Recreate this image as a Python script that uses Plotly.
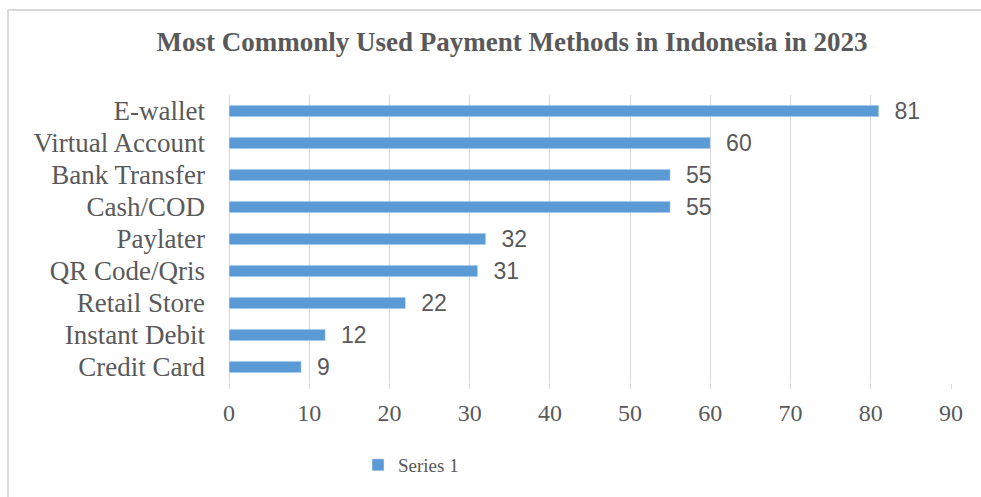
import plotly.graph_objects as go

# Payment methods and share of respondents (%)
methods = ["E-wallet", "Virtual Account", "Bank Transfer", "Cash/COD", "Paylater",
           "QR Code/Qris", "Retail Store", "Instant Debit", "Credit Card"]
shares = [81, 60, 55, 55, 32, 31, 22, 12, 9]
x_ticks = [0, 10, 20, 30, 40, 50, 60, 70, 80, 90]

W, H = 981, 497
L, R, T, B = 229, 30, 95, 114
PW, PH = W - L - R, H - T - B

GREY = "#595959"
GRID = "#d9d9d9"
SERIF = "Liberation Serif, Times New Roman, serif"
SANS = "Liberation Sans, Arial, sans-serif"


def px_x(px):
    return (px - L) / PW


def px_y(py):
    return (H - B - py) / PH


fig = go.Figure(
    go.Bar(
        x=shares,
        y=methods,
        orientation="h",
        name="Series 1",
        width=0.36,
        marker=dict(color="#5b9bd5"),
        text=shares,
        texttemplate="\u00a0\u00a0%{text}",
        textposition="outside",
        constraintext="none",
        textfont=dict(family=SANS, size=23, color=GREY),
        cliponaxis=False,
    )
)

fig.update_layout(
    width=W,
    height=H,
    margin=dict(l=L, r=R, t=T, b=B, pad=0),
    paper_bgcolor="white",
    plot_bgcolor="white",
    title=dict(
        text="<b>Most Commonly Used Payment Methods in Indonesia in 2023</b>",
        x=512 / W,
        xanchor="center",
        y=1 - 42 / H,
        yanchor="middle",
        font=dict(family=SERIF, size=27, color=GREY),
    ),
    xaxis=dict(
        range=[0, 90],
        tickmode="array",
        tickvals=x_ticks,
        showgrid=True,
        gridcolor=GRID,
        gridwidth=1,
        zeroline=True,
        zerolinecolor=GRID,
        zerolinewidth=1,
        ticks="outside",
        ticklen=5,
        tickcolor=GRID,
        tickfont=dict(family=SERIF, size=24, color=GREY),
        ticklabelstandoff=3,
        showline=False,
        fixedrange=True,
    ),
    yaxis=dict(
        categoryorder="array",
        categoryarray=methods[::-1],
        tickmode="array",
        tickvals=methods,
        ticktext=methods,
        showgrid=False,
        ticks="",
        tickfont=dict(family=SERIF, size=27, color=GREY),
        ticklabelstandoff=23,
        fixedrange=True,
    ),
    showlegend=True,
    legend=dict(
        orientation="h",
        x=px_x(358),
        xanchor="left",
        y=px_y(465),
        yanchor="middle",
        font=dict(family=SERIF, size=19, color=GREY),
        itemwidth=30,
    ),
    shapes=[
        dict(type="line", xref="paper", yref="paper",
             x0=px_x(8), x1=px_x(W), y0=px_y(10), y1=px_y(10),
             line=dict(color=GRID, width=2)),
        dict(type="line", xref="paper", yref="paper",
             x0=px_x(8), x1=px_x(8), y0=px_y(10), y1=px_y(H),
             line=dict(color=GRID, width=2)),
    ],
)

fig.write_html("out.html")
